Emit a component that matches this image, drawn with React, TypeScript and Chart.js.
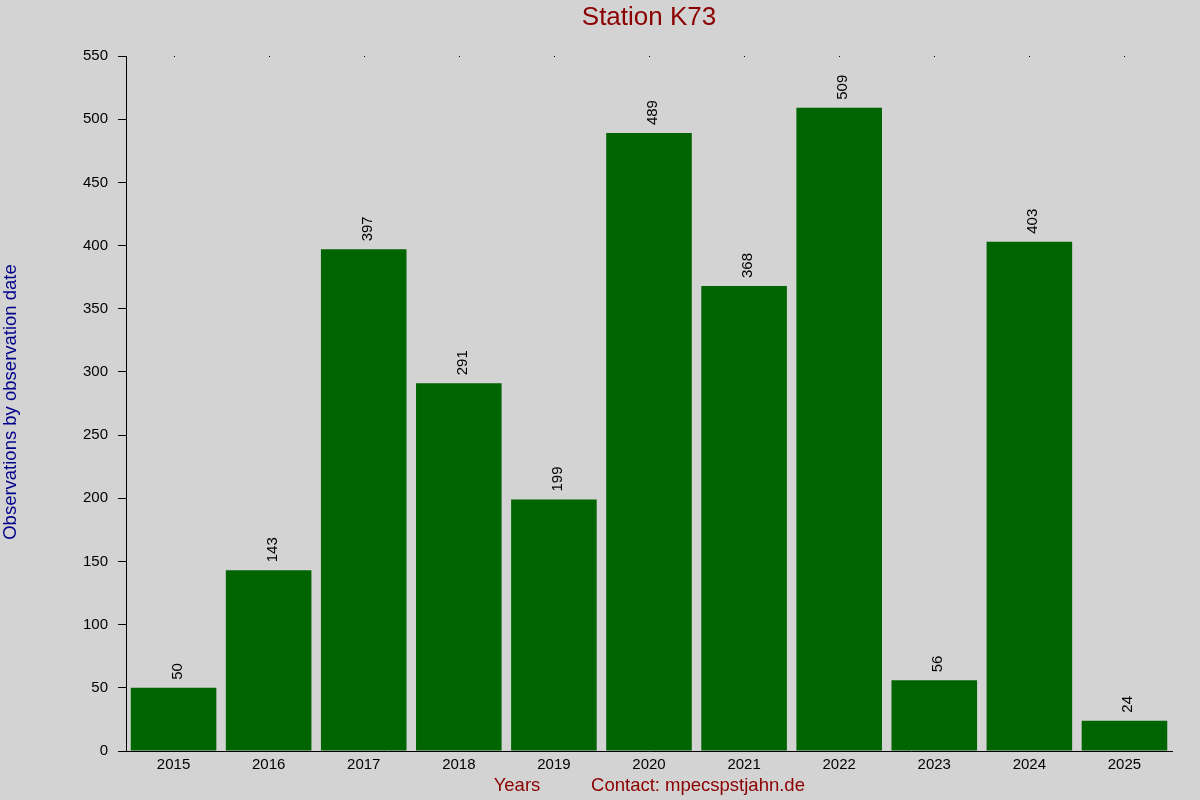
import Chart from 'chart.js/auto'
import { useEffect, useRef } from 'react'

const years = ['2015', '2016', '2017', '2018', '2019', '2020', '2021', '2022', '2023', '2024', '2025']
const observations = [50, 143, 397, 291, 199, 489, 368, 509, 56, 403, 24]
const yTicks = [0, 50, 100, 150, 200, 250, 300, 350, 400, 450, 500, 550]

const FONT = '"Liberation Sans", Arial, sans-serif'

const textPlugin = {
  id: 'k73text',
  afterDatasetsDraw(chart: any) {
    const ctx = chart.ctx
    const meta = chart.getDatasetMeta(0)
    ctx.save()
    ctx.fillStyle = '#000000'
    ctx.font = `15px ${FONT}`
    ctx.textAlign = 'left'
    ctx.textBaseline = 'alphabetic'
    meta.data.forEach((bar: any, i: number) => {
      ctx.save()
      ctx.translate(bar.x + 8, bar.y - 8)
      ctx.rotate(-Math.PI / 2)
      ctx.fillText(String(observations[i]), 0, 0)
      ctx.restore()
    })
    // small dots along the top edge at each category
    const xs = chart.scales.x
    const top = chart.chartArea.top
    years.forEach((_, i) => {
      ctx.fillRect(Math.round(xs.getPixelForValue(i)), top, 1, 1)
    })
    ctx.restore()
  },
  afterDraw(chart: any) {
    const ctx = chart.ctx
    ctx.save()
    ctx.textBaseline = 'middle'
    ctx.textAlign = 'center'
    ctx.fillStyle = '#8b0000'
    ctx.font = `26px ${FONT}`
    ctx.fillText('Station K73', 649, 18)
    ctx.font = `18.5px ${FONT}`
    ctx.fillText('Years', 517, 786)
    ctx.fillText('Contact: mpecspstjahn.de', 698, 786)
    ctx.save()
    ctx.translate(11, 402)
    ctx.rotate(-Math.PI / 2)
    ctx.fillStyle = '#00008b'
    ctx.fillText('Observations by observation date', 0, 0)
    ctx.restore()
    ctx.restore()
  },
}

const bgPlugin = {
  id: 'k73bg',
  beforeDraw(chart: any) {
    const ctx = chart.ctx
    ctx.save()
    ctx.fillStyle = '#d3d3d3'
    ctx.fillRect(0, 0, chart.width, chart.height)
    ctx.restore()
  },
}

const App = () => {
  const canvasRef = useRef<HTMLCanvasElement>(null)
  const chartRef = useRef<Chart | null>(null)

  useEffect(() => {
    document.body.style.margin = '0'
    if (canvasRef.current) {
      chartRef.current = new Chart(canvasRef.current, {
        type: 'bar',
        data: {
          labels: years,
          datasets: [
            {
              data: observations,
              backgroundColor: '#006400',
              borderWidth: 0,
              barPercentage: 0.9,
              categoryPercentage: 1,
            },
          ],
        },
        options: {
          animation: false,
          responsive: false,
          devicePixelRatio: 1,
          layout: { padding: { top: 56, right: 28, left: 0, bottom: 0 } },
          plugins: {
            legend: { display: false },
            tooltip: { enabled: false },
            title: { display: false },
          },
          scales: {
            x: {
              grid: { display: false, drawTicks: false, tickLength: 0 },
              border: { display: true, color: '#000000', width: 1 },
              ticks: {
                color: '#000000',
                font: { family: FONT, size: 15 },
                padding: 5,
                maxRotation: 0,
              },
              afterFit(scale: any) {
                scale.height = 49
              },
            },
            y: {
              min: 0,
              max: 550,
              afterBuildTicks(scale: any) {
                scale.ticks = yTicks.map((v) => ({ value: v }))
              },
              grid: {
                drawOnChartArea: false,
                drawTicks: true,
                tickLength: 8,
                color: '#000000',
              },
              border: { display: true, color: '#000000', width: 1 },
              ticks: {
                color: '#000000',
                font: { family: FONT, size: 15 },
                padding: 10,
              },
              afterFit(scale: any) {
                scale.width = 126
              },
            },
          },
        },
        plugins: [bgPlugin, textPlugin],
      })
    }
    return () => {
      if (chartRef.current) {
        chartRef.current.destroy()
      }
    }
  }, [])

  return (
    <div style={{ position: 'fixed', left: 0, top: 0, width: 1200, height: 800, background: '#d3d3d3' }}>
      <canvas ref={canvasRef} width={1200} height={800} style={{ width: 1200, height: 800 }}></canvas>
    </div>
  )
}

export default App
